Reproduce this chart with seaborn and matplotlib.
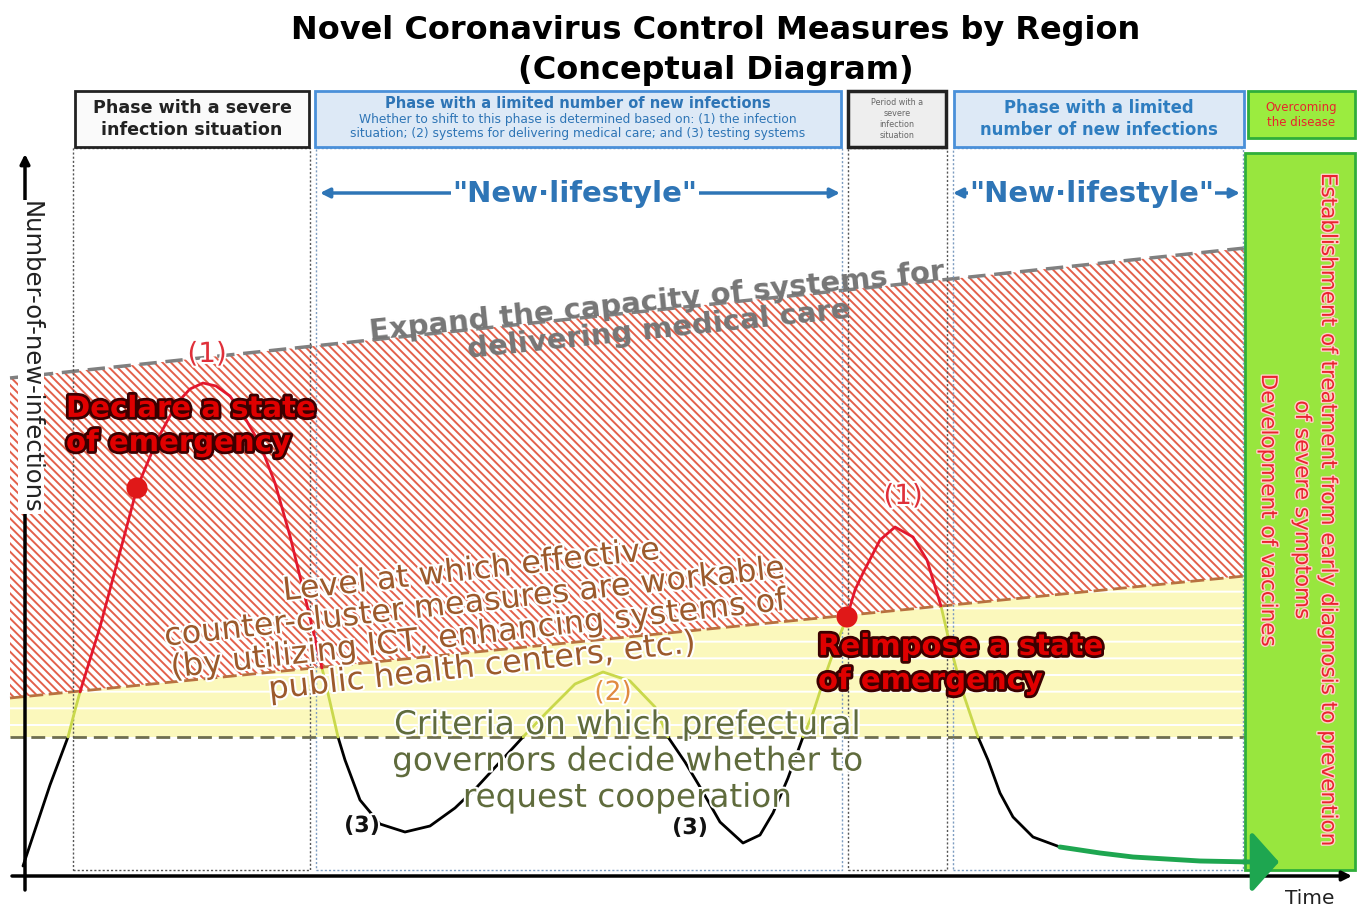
import numpy as np
import pandas as pd
import matplotlib
matplotlib.use("Agg")
import matplotlib.pyplot as plt
import matplotlib.patheffects as pe
from matplotlib.patches import Rectangle
import seaborn as sns

# ---- data (conceptual units, x = time, y = number of new infections) ----
# infection curve, split into pieces; each piece gets the colour of its zone
curve_piece = [0]*4 + [1]*3 + [2]*16 + [3]*3 + [4]*10 + [5]*7 + [6]*9 + [7]*5 + [8]*9 + [9]*4 + [10]*6
curve_t = [23, 35, 50, 68,
           68, 74, 80,
           80, 100, 120, 137, 157, 177, 190, 203, 216, 230, 245, 260, 275, 290, 306, 322,
           322, 330, 338,
           338, 345, 360, 380, 405, 430, 455, 477, 500, 523,
           523, 547, 575, 603, 630, 655, 668,
           668, 685, 700, 720, 743, 760, 773, 788, 803,
           803, 813, 825, 836, 847,
           847, 855, 863, 880, 895, 913, 927, 937, 941,
           941, 950, 962, 978,
           978, 988, 1000, 1013, 1033, 1060]
curve_n = [40, 76, 121, 169,
           169, 192, 214,
           214, 279, 354, 418, 466, 503, 517, 523, 520, 510, 488, 462, 423, 370, 305, 238,
           238, 204, 169,
           169, 146, 106, 82, 74, 80, 98, 119, 144, 169,
           169, 194, 222, 234, 225, 199, 169,
           169, 144, 119, 84, 63, 71, 93, 128, 169,
           169, 193, 230, 261, 289,
           289, 316, 333, 366, 379, 369, 346, 313, 300,
           300, 261, 216, 169,
           169, 146, 113, 89, 69, 59]
piece_zone = ["below", "between", "above", "between", "below", "between",
              "below", "between", "above", "between", "below"]

# recovery tail towards overcoming the disease
tail_t = [1060, 1100, 1133, 1200, 1252]
tail_n = [59, 53, 49, 45, 44]

# points where a state of emergency is declared
emerg_t = [137, 847]
emerg_n = [418, 289]

# threshold lines
line_t = [10, 1245]
capacity_n = [528, 658]     # capacity of medical care system
cluster_n = [208, 330]      # level where counter-cluster measures work
criteria_n = [169, 169]     # criteria of prefectural governors

# phase columns
phase_x = [(73, 310), (316, 842), (848, 947), (953, 1243)]
phase_kind = ["severe", "limited", "severe", "limited"]

zone_colors = {"below": "black", "between": "#c9d84c", "above": "#e3172d"}
blue = "#2e75b6"

df = pd.DataFrame({"t": curve_t, "n": curve_n, "piece": curve_piece})
df["zone"] = [piece_zone[p] for p in df["piece"]]

sns.set_theme(style="white")
plt.rcParams["font.family"] = ["DejaVu Sans"]
plt.rcParams["hatch.linewidth"] = 1.4

fig = plt.figure(figsize=(13.6, 9.06), dpi=100)
ax = fig.add_axes([0, 0, 1, 1])
ax.set_xlim(0, 1360)
ax.set_ylim(0, 906)
ax.axis("off")

# zones
ax.fill_between(line_t, cluster_n, capacity_n, facecolor="white",
                edgecolor="#e3604a", linewidth=0, hatch="\\\\\\\\", zorder=1)
ax.fill_between(line_t, criteria_n, cluster_n, facecolor="#fbf8bc",
                edgecolor="white", linewidth=0, hatch="-", zorder=1)
ax.plot(line_t, capacity_n, ls=(0, (5, 2.5)), color="#808080", lw=2.5, zorder=2)
ax.plot(line_t, cluster_n, ls=(0, (5, 2)), color="#b8713f", lw=2, zorder=2)
ax.plot(line_t, criteria_n, ls=(0, (5, 2.5)), color="#6e6e50", lw=2, zorder=2)

# phase columns
for (x0, x1), kind in zip(phase_x, phase_kind):
    ec = "#555555" if kind == "severe" else "#7d9cc0"
    ax.add_patch(Rectangle((x0, 36), x1 - x0, 722, fill=False, ls=(0, (1.5, 1.5)),
                           ec=ec, lw=1, zorder=3))

# header boxes
ax.add_patch(Rectangle((75, 759), 234, 56, fc="#fafafa", ec="#222222", lw=2, zorder=3))
ax.add_patch(Rectangle((315, 759), 526, 56, fc="#dde9f6", ec="#4a90d9", lw=2, zorder=3))
ax.add_patch(Rectangle((848, 759), 98, 56, fc="#eeeeee", ec="#222222", lw=2.5, zorder=3))
ax.add_patch(Rectangle((954, 759), 290, 56, fc="#dde9f6", ec="#4a90d9", lw=2, zorder=3))
ax.add_patch(Rectangle((1248, 768), 107, 47, fc="#9bec3f", ec="#2fae3a", lw=2, zorder=3))
ax.add_patch(Rectangle((1245, 36), 110, 717, fc="#98e63e", ec="#2fae3a", lw=2, zorder=3))

ax.text(192, 787, "Phase with a severe\ninfection situation", ha="center", va="center",
        fontsize=12.6, fontweight="bold", color="#222222", linespacing=1.3, zorder=4)
ax.text(578, 802, "Phase with a limited number of new infections", ha="center",
        va="center", fontsize=10.5, fontweight="bold", color=blue, zorder=4)
ax.text(578, 779, "Whether to shift to this phase is determined based on: (1) the infection\n"
        "situation; (2) systems for delivering medical care; and (3) testing systems",
        ha="center", va="center", fontsize=8.8, color=blue, linespacing=1.1, zorder=4)
ax.text(897, 787, "Period with a\nsevere\ninfection\nsituation", ha="center", va="center",
        fontsize=5.8, color="#666666", linespacing=1.3, zorder=4)
ax.text(1099, 787, "Phase with a limited\nnumber of new infections", ha="center",
        va="center", fontsize=11.9, fontweight="bold", color="#2e7dc0", linespacing=1.25, zorder=4)
ax.text(1301, 791, "Overcoming\nthe disease", ha="center", va="center", fontsize=8.5,
        color="#e8242c", linespacing=1.2, zorder=4)

# green box text
red_glow = [pe.withStroke(linewidth=2, foreground="#ffd0c8")]
green_txt = [(1328, "Establishment of treatment from early diagnosis to prevention"),
             (1302, "of severe symptoms"),
             (1268, "Development of vaccines")]
for x, s in green_txt:
    ax.text(x, 396, s, rotation=-90, ha="center", va="center", fontsize=15.5,
            color="#ea2330", zorder=4, path_effects=red_glow)

# "New lifestyle" arrows
for x0, x1 in [(320, 840), (953, 1240)]:
    ax.annotate("", xy=(x1, 713), xytext=(x0, 713), zorder=4,
                arrowprops=dict(arrowstyle="<|-|>", color=blue, lw=2.5,
                                mutation_scale=14, shrinkA=0, shrinkB=0))
    ax.text((x0 + x1) / 2 - 5, 712, '"New\u00b7lifestyle"', ha="center", va="center",
            fontsize=21, fontweight="bold", color=blue, zorder=5,
            bbox=dict(fc="white", ec="none", pad=1))

# axes arrows
ax.annotate("", xy=(25, 752), xytext=(25, 16), zorder=4,
            arrowprops=dict(arrowstyle="-|>", color="black", lw=2.5,
                            mutation_scale=14, shrinkA=0, shrinkB=0))
ax.annotate("", xy=(1352, 30), xytext=(12, 30), zorder=4,
            arrowprops=dict(arrowstyle="-|>", color="black", lw=2.5,
                            mutation_scale=14, shrinkA=0, shrinkB=0))
ax.text(31, 549, "Number-of-new-infections", rotation=-90, ha="center", va="center",
        fontsize=17.5, color="#222222", zorder=5, bbox=dict(fc="white", ec="none", pad=0.5))
ax.text(1310, 8, "Time", ha="center", va="center", fontsize=14.5, color="#222222", zorder=5)

# infection curve
sns.lineplot(data=df, x="t", y="n", hue="zone", units="piece", estimator=None, sort=False,
             palette=zone_colors, linewidth=2, legend=False, ax=ax, zorder=6)
sns.lineplot(x=tail_t, y=tail_n, sort=False, color="#1ea650", linewidth=3.5, ax=ax, zorder=6)
ax.annotate("", xy=(1279, tail_n[-1]), xytext=(tail_t[-1], tail_n[-1]), zorder=6,
            arrowprops=dict(arrowstyle="-|>,head_length=0.85,head_width=0.95",
                            color="#1ea650", lw=3.5, mutation_scale=20, shrinkA=0, shrinkB=0))
sns.scatterplot(x=emerg_t, y=emerg_n, color="#e01818", s=230, edgecolor="none", ax=ax, zorder=7)

# annotations
glow = [pe.withStroke(linewidth=3, foreground="white")]
ax.text(716, 876, "Novel Coronavirus Control Measures by Region", ha="center", va="center",
        fontsize=23, fontweight="bold", color="black")
ax.text(716, 836, "(Conceptual Diagram)", ha="center", va="center",
        fontsize=23, fontweight="bold", color="black")
ax.text(658, 590, "Expand the capacity of systems for\ndelivering medical care", ha="center",
        va="center", rotation=6, rotation_mode="anchor", fontsize=21, fontweight="bold",
        color="#767676", linespacing=1.0, zorder=5)
ax.text(477, 287, "Level at which effective\ncounter-cluster measures are workable\n"
        "(by utilizing ICT, enhancing systems of\npublic health centers, etc.)",
        ha="center", va="center", rotation=6.3, rotation_mode="anchor", fontsize=23,
        color="#9c5a2c", linespacing=1.05, zorder=8, path_effects=glow)
ax.text(627, 145, "Criteria on which prefectural\ngovernors decide whether to\nrequest cooperation",
        ha="center", va="center", fontsize=23.5, color="#5f6b3c", linespacing=1.13,
        zorder=8, path_effects=glow)

alarm = [pe.withStroke(linewidth=4, foreground="#3a0000")]
ax.text(66, 480, "Declare a state\nof emergency", ha="left", va="center", fontsize=21,
        fontweight="bold", color="#e00000", linespacing=1.28, zorder=8, path_effects=alarm)
ax.text(818, 242, "Reimpose a state\nof emergency", ha="left", va="center", fontsize=21,
        fontweight="bold", color="#e00000", linespacing=1.28, zorder=8, path_effects=alarm)

marks = [(207, 552, "(1)", "#e0303a", 20), (903, 410, "(1)", "#e0303a", 20),
         (613, 213, "(2)", "#e08a40", 19), (362, 80, "(3)", "#111111", 16),
         (690, 78, "(3)", "#111111", 16)]
for x, y, s, c, fs in marks:
    ax.text(x, y, s, ha="center", va="center", fontsize=fs,
            fontweight="bold" if c == "#111111" else "normal",
            color=c, zorder=8, path_effects=glow)

fig.savefig("out.png", dpi=100)
